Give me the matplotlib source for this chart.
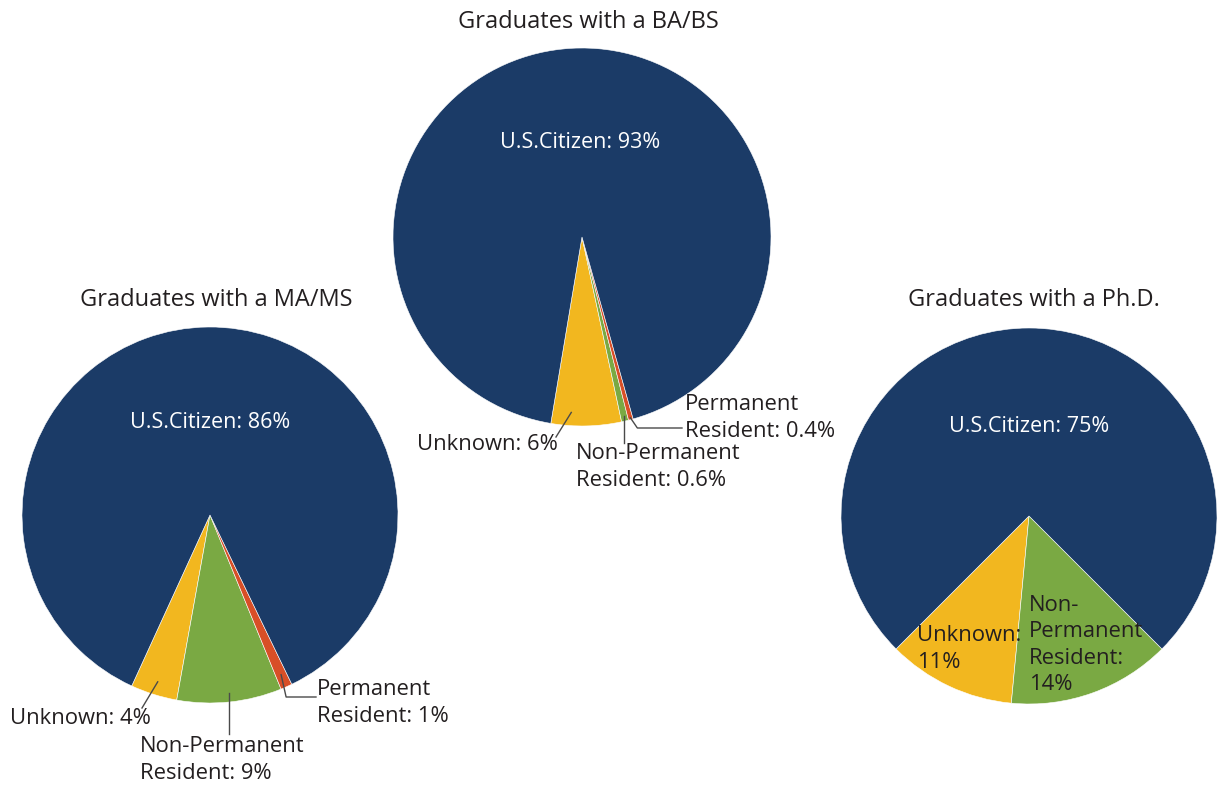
import numpy as np
import matplotlib
matplotlib.use("Agg")
import matplotlib.pyplot as plt

plt.rcParams['font.family'] = ['Open Sans', 'DejaVu Sans']

categories = ["U.S.Citizen", "Unknown", "Non-Permanent Resident", "Permanent Resident"]
ba_values = [93, 6, 0.6, 0.4]
ma_values = [86, 4, 9, 1]
phd_values = [75, 11, 14]
titles = ["Graduates with a BA/BS", "Graduates with a MA/MS", "Graduates with a Ph.D."]

colors = {"U.S.Citizen": "#1b3b67", "Unknown": "#f2b71f",
          "Non-Permanent Resident": "#7aa943", "Permanent Resident": "#d84f27"}
TXT = "#231f20"
W, H = 1221, 786

fig = plt.figure(figsize=(W / 100, H / 100), dpi=100)
ax = fig.add_axes([0, 0, 1, 1])


def Y(py):
    return H - py


def draw_pie(values, cx, cy, r, start):
    names = categories[:len(values)]
    # small slices first (counterclockwise), citizen last
    order = list(range(1, len(values))) + [0]
    vals = [values[i] for i in order]
    cols = [colors[names[i]] for i in order]
    wedges, _ = ax.pie(vals, colors=cols, startangle=start, counterclock=True,
                       center=(cx, Y(cy)), radius=r, frame=True,
                       wedgeprops=dict(edgecolor="white", linewidth=0.4))
    return {names[i]: w for i, w in zip(order, wedges)}


def edge_point(w, frac=0.97, ang=None):
    if ang is None:
        ang = 0.5 * (w.theta1 + w.theta2)
    a = np.deg2rad(ang)
    cx, cy = w.center
    return cx + frac * w.r * np.cos(a), cy + frac * w.r * np.sin(a)


fs = 15.8
tfs = 17
wfs = 15.5
lc = "#4a4a4a"
ls = 1.32

# BA/BS
wb = draw_pie(ba_values, 582, 237, 189, -99.5)
ax.text(588, Y(22), titles[0], ha="center", va="center", fontsize=tfs, color=TXT)
ax.text(580, Y(143), f"U.S.Citizen: {ba_values[0]:g}%", ha="center", va="center",
        fontsize=wfs, color="white")
x0, y0 = edge_point(wb["Unknown"], 0.93, wb["Unknown"].theta1 + 6)
ax.plot([x0, 556], [y0, Y(437)], color=lc, lw=1)
ax.text(417, Y(445), f"Unknown: {ba_values[1]:g}%", ha="left", va="center", fontsize=fs, color=TXT)
x0, y0 = edge_point(wb["Non-Permanent Resident"], 0.97)
ax.plot([x0, x0], [y0, Y(443)], color=lc, lw=1)
ax.text(576, Y(467), f"Non-Permanent\nResident: {ba_values[2]:g}%", ha="left", va="center",
        fontsize=fs, color=TXT, linespacing=ls)
x0, y0 = edge_point(wb["Permanent Resident"], 0.99)
ax.plot([x0, x0 + 7, 682], [y0, Y(428), Y(428)], color=lc, lw=1)
ax.text(685, Y(418), f"Permanent\nResident: {ba_values[3]:g}%", ha="left", va="center",
        fontsize=fs, color=TXT, linespacing=ls)

# MA/MS
wm = draw_pie(ma_values, 210, 515, 188, -114.6)
ax.text(216, Y(300), titles[1], ha="center", va="center", fontsize=tfs, color=TXT)
ax.text(210, Y(423), f"U.S.Citizen: {ma_values[0]:g}%", ha="center", va="center",
        fontsize=wfs, color="white")
x0, y0 = edge_point(wm["Unknown"], 0.93)
ax.plot([x0, 142], [y0, Y(708)], color=lc, lw=1)
ax.text(10, Y(718), f"Unknown: {ma_values[1]:g}%", ha="left", va="center", fontsize=fs, color=TXT)
x0, y0 = edge_point(wm["Non-Permanent Resident"], 0.95)
ax.plot([x0, x0], [y0, Y(734)], color=lc, lw=1)
ax.text(140, Y(760), f"Non-Permanent\nResident: {ma_values[2]:g}%", ha="left", va="center",
        fontsize=fs, color=TXT, linespacing=ls)
x0, y0 = edge_point(wm["Permanent Resident"], 0.93)
ax.plot([x0, x0 + 5, 316], [y0, Y(697), Y(697)], color=lc, lw=1)
ax.text(317, Y(703), f"Permanent\nResident: {ma_values[3]:g}%", ha="left", va="center",
        fontsize=fs, color=TXT, linespacing=ls)

# Ph.D.
wp = draw_pie(phd_values, 1029, 516, 188, -135)
ax.text(1034, Y(300), titles[2], ha="center", va="center", fontsize=tfs, color=TXT)
ax.text(1029, Y(427), f"U.S.Citizen: {phd_values[0]:g}%", ha="center", va="center",
        fontsize=wfs, color="white")
ax.text(917, Y(649), f"Unknown:\n{phd_values[1]:g}%", ha="left", va="center",
        fontsize=fs, color=TXT, linespacing=ls)
ax.text(1029, Y(645), f"Non-\nPermanent\nResident:\n{phd_values[2]:g}%", ha="left", va="center",
        fontsize=fs, color=TXT, linespacing=ls)

ax.set_xlim(0, W)
ax.set_ylim(0, H)
ax.set_aspect("equal")
ax.axis("off")

fig.savefig("out.png", dpi=100, facecolor="white")
